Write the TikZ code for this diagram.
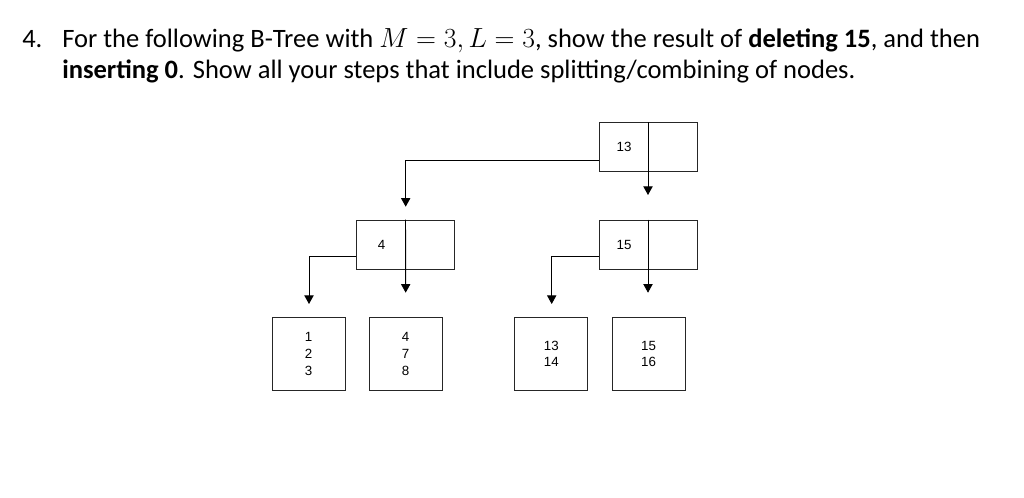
\documentclass[tikz,border=0pt]{standalone}
\usepackage{fontspec}
\setmainfont{Carlito}
\newfontfamily\diagfont{Liberation Sans}
\usetikzlibrary{arrows.meta,calc}
\tikzset{
  inner/.style={draw=black!85, line width=0.7pt, rectangle, minimum width=73.5pt, minimum height=36.75pt, inner sep=0pt},
  leaf/.style={draw=black!85, line width=0.7pt, rectangle, minimum width=54.75pt, minimum height=54.75pt, inner sep=0pt, align=center,
    font=\diagfont\fontsize{10pt}{12.5pt}\selectfont},
  key/.style={inner sep=0pt, font=\diagfont\fontsize{10pt}{12.5pt}\selectfont},
  arr/.style={draw=black, line width=0.7pt, -{Triangle[length=6.5pt,width=7pt]}},
  head/.style={inner sep=0pt, anchor=base west, font=\fontsize{19.9pt}{24pt}\selectfont}
}
\begin{document}
\begin{tikzpicture}[x=0.75pt,y=-0.75pt]
\useasboundingbox[fill=white] (0,0) rectangle (1024,497);
% heading
\node[head] (num) at (22,47) {4.};
\node[head] (line1) at (62,47) {For the following B-Tree with $M=3, L=3$, show the result of \textbf{deleting 15}, and then};
\node[head] (line2) at (62,78) {\textbf{inserting 0}. Show all your steps that include splitting/combining of nodes.};
% internal nodes
\node[inner] (root) at (648,147.2) {};
\node[key] (k13) at (624,147.2) {13};
\node[inner] (n4) at (405.5,244.5) {};
\node[key] (k4) at (381.5,244.5) {4};
\node[inner] (n15) at (648,244.5) {};
\node[key] (k15) at (624,244.5) {15};
% leaves
\node[leaf] (l1) at (308.7,354) {1\\2\\3};
\node[leaf] (l2) at (405.7,354) {4\\7\\8};
\node[leaf] (l3) at (551.3,354) {13\\14};
\node[leaf] (l4) at (648.5,354) {15\\16};
% arrow tips
\coordinate (t1) at (405.7,206.7);
\coordinate (t2) at (648,195);
\coordinate (t3) at (309,304);
\coordinate (t4) at (405.7,292.7);
\coordinate (t5) at (551.7,304);
\coordinate (t6) at (648,292.7);
% connectors
\draw[arr] ($(root.west)+(0,12.8)$) -| (t1);
\draw[arr] (root.north) -- (t2);
\draw[arr] ($(n4.west)+(0,12.2)$) -| (t3);
\draw[arr] (n4.north) -- (t4);
\draw[arr] ($(n15.west)+(0,12.2)$) -| (t5);
\draw[arr] (n15.north) -- (t6);
\end{tikzpicture}
\end{document}
